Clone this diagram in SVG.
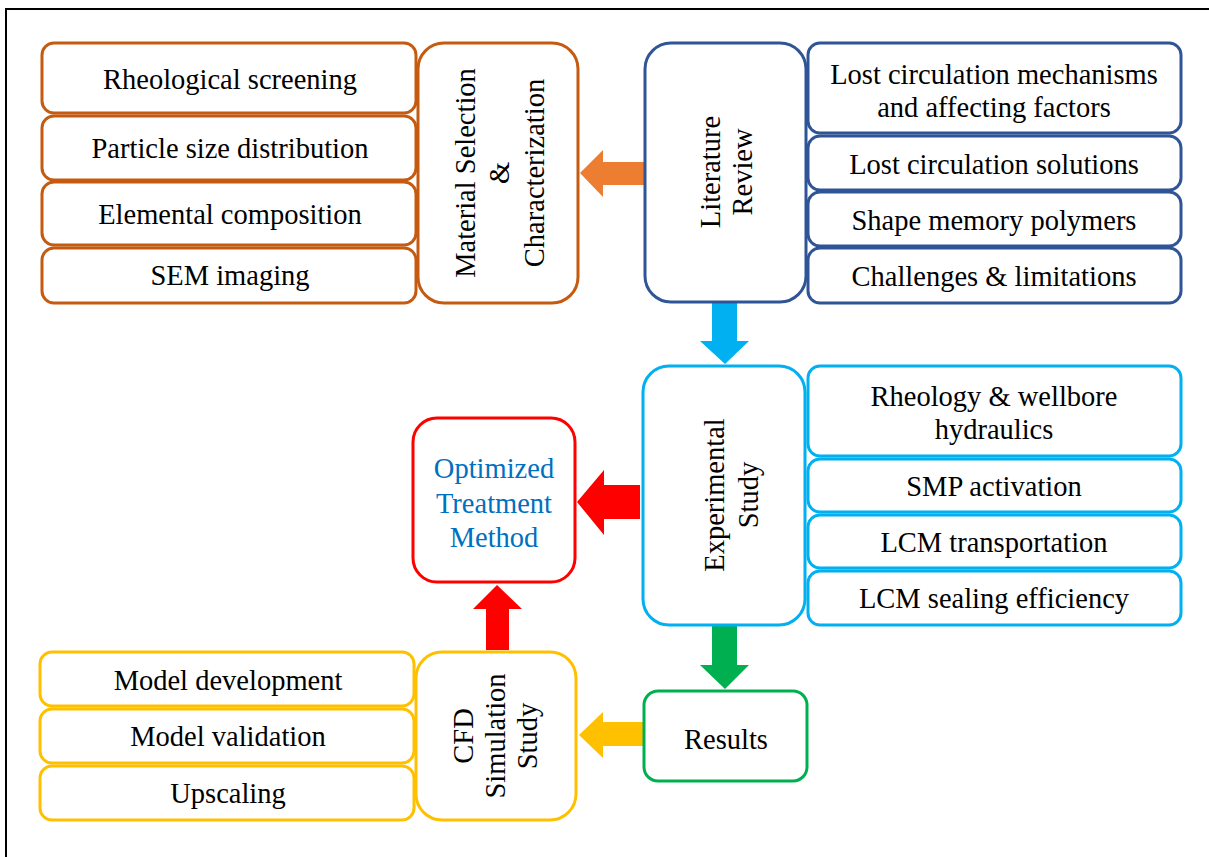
<svg xmlns="http://www.w3.org/2000/svg" width="1209" height="857" viewBox="0 0 1209 857">
<style>
.t{font-size:28.5px;fill:#000;text-anchor:middle;dominant-baseline:central}
.box{fill:#fff;stroke-width:3}
.or{stroke:#C55A11}
.db{stroke:#2F5597}
.cy{stroke:#00B0F0}
.rd{stroke:#FF0000}
.gr{stroke:#00B050}
.ye{stroke:#FFC000}
</style>
<rect x="0" y="0" width="1209" height="857" fill="#fff"/>
<path d="M6,857 V9 H1209" fill="none" stroke="#000" stroke-width="2"/>

<g id="connectors">
<polygon points="645,162 603,162 603,150 580,173 603,197 603,185 645,185" fill="#ED7D31"/>
<polygon points="712,303 737,303 737,341 749,341 725,364 700,341 712,341" fill="#00B0F0"/>
<polygon points="640,485 604,485 604,470 577,502 604,535 604,519 640,519" fill="#FF0000"/>
<polygon points="486,650 509,650 509,609 522,609 497,585 473,609 486,609" fill="#FF0000"/>
<polygon points="712,625 737,625 737,665 749,665 725,689 700,665 712,665" fill="#00B050"/>
<polygon points="644,722 603,722 603,712 579,735 603,758 603,746 644,746" fill="#FFC000"/>
</g>

<g font-family="Liberation Serif, Tinos, DejaVu Serif, serif">
<g id="material">
<rect class="box or" x="418" y="43" width="160" height="260" rx="26"/>
<text class="t" transform="translate(465,173) rotate(-90)">Material Selection</text>
<text class="t" transform="translate(499,173) rotate(-90)">&amp;</text>
<text class="t" transform="translate(534,173) rotate(-90)">Characterization</text>
</g>
<g id="m1"><rect class="box or" x="42" y="43" width="374" height="70" rx="12"/><text class="t" x="230" y="79">Rheological screening</text></g>
<g id="m2"><rect class="box or" x="42" y="116" width="374" height="64" rx="12"/><text class="t" x="230" y="148">Particle size distribution</text></g>
<g id="m3"><rect class="box or" x="42" y="182" width="374" height="63" rx="12"/><text class="t" x="230" y="214">Elemental composition</text></g>
<g id="m4"><rect class="box or" x="42" y="248" width="374" height="55" rx="12"/><text class="t" x="230" y="275">SEM imaging</text></g>

<g id="literature">
<rect class="box db" x="645" y="43" width="161" height="259" rx="26"/>
<text class="t" transform="translate(710,172) rotate(-90)">Literature</text>
<text class="t" transform="translate(742,172) rotate(-90)">Review</text>
</g>
<g id="l1"><rect class="box db" x="808" y="43" width="373" height="90" rx="12"/><text class="t" x="994" y="74">Lost circulation mechanisms</text><text class="t" x="994" y="107">and affecting factors</text></g>
<g id="l2"><rect class="box db" x="808" y="136" width="373" height="54" rx="12"/><text class="t" x="994" y="164">Lost circulation solutions</text></g>
<g id="l3"><rect class="box db" x="808" y="192" width="373" height="54" rx="12"/><text class="t" x="994" y="220">Shape memory polymers</text></g>
<g id="l4"><rect class="box db" x="808" y="248" width="373" height="55" rx="12"/><text class="t" x="994" y="276">Challenges &amp; limitations</text></g>

<g id="experimental">
<rect class="box cy" x="643" y="366" width="162" height="259" rx="26"/>
<text class="t" transform="translate(714,495) rotate(-90)">Experimental</text>
<text class="t" transform="translate(748,495) rotate(-90)">Study</text>
</g>
<g id="e1"><rect class="box cy" x="808" y="366" width="373" height="90" rx="12"/><text class="t" x="994" y="396">Rheology &amp; wellbore</text><text class="t" x="994" y="429">hydraulics</text></g>
<g id="e2"><rect class="box cy" x="808" y="459" width="373" height="53" rx="12"/><text class="t" x="994" y="486">SMP activation</text></g>
<g id="e3"><rect class="box cy" x="808" y="515" width="373" height="53" rx="12"/><text class="t" x="994" y="542">LCM transportation</text></g>
<g id="e4"><rect class="box cy" x="808" y="571" width="373" height="54" rx="12"/><text class="t" x="994" y="598">LCM sealing efficiency</text></g>

<g id="optimized">
<rect class="box rd" x="413" y="418" width="162" height="164" rx="24"/>
<text class="t" x="494" y="468" style="fill:#0070C0">Optimized</text>
<text class="t" x="494" y="503" style="fill:#0070C0">Treatment</text>
<text class="t" x="494" y="537" style="fill:#0070C0">Method</text>
</g>

<g id="results">
<rect class="box gr" x="644" y="691" width="163" height="90" rx="14"/>
<text class="t" x="726" y="739">Results</text>
</g>

<g id="cfd">
<rect class="box ye" x="416" y="652" width="160" height="168" rx="26"/>
<text class="t" transform="translate(463,736) rotate(-90)">CFD</text>
<text class="t" transform="translate(495,736) rotate(-90)">Simulation</text>
<text class="t" transform="translate(527,736) rotate(-90)">Study</text>
</g>
<g id="c1"><rect class="box ye" x="40" y="652" width="374" height="54" rx="12"/><text class="t" x="228" y="680">Model development</text></g>
<g id="c2"><rect class="box ye" x="40" y="709" width="374" height="54" rx="12"/><text class="t" x="228" y="736">Model validation</text></g>
<g id="c3"><rect class="box ye" x="40" y="766" width="374" height="54" rx="12"/><text class="t" x="228" y="793">Upscaling</text></g>
</g>
</svg>
